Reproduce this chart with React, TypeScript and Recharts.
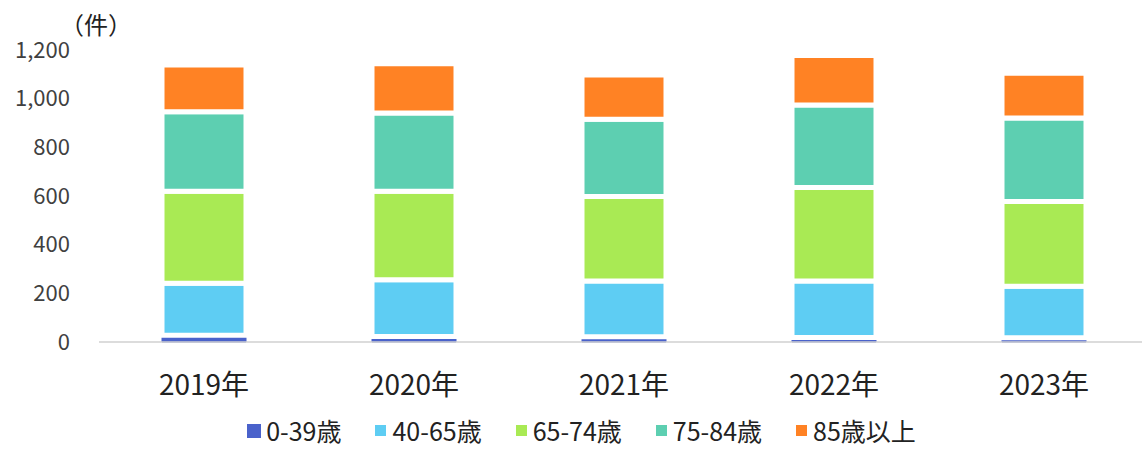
import { BarChart, Bar, XAxis, YAxis } from "recharts";

const years = ["2019年", "2020年", "2021年", "2022年", "2023年"];
const age0to39 = [28, 23, 22, 18, 17];
const age40to65 = [213, 233, 229, 233, 212];
const age65to74 = [379, 364, 347, 384, 348];
const age75to84 = [326, 321, 317, 339, 344];
const age85plus = [192, 203, 182, 203, 183];
const yTicks = [0, 200, 400, 600, 800, 1000, 1200];

const seriesDefs = [
  { key: "a0", name: "0-39歳", color: "#4a62cb", values: age0to39 },
  { key: "a40", name: "40-65歳", color: "#5ecdf3", values: age40to65 },
  { key: "a65", name: "65-74歳", color: "#a9ea54", values: age65to74 },
  { key: "a75", name: "75-84歳", color: "#5dcfb1", values: age75to84 },
  { key: "a85", name: "85歳以上", color: "#ff8224", values: age85plus },
];

const data = years.map((year, i) => {
  const row: Record<string, string | number> = { year };
  seriesDefs.forEach((s) => {
    row[s.key] = s.values[i];
  });
  return row;
});

const FONT = '"Noto Sans CJK JP", "Noto Sans", sans-serif';
const TEXT = "#404040";

export default function App() {
  return (
    <div
      style={{
        position: "absolute",
        left: 0,
        top: 0,
        width: 1142,
        height: 449,
        overflow: "hidden",
        background: "#fff",
        fontFamily: FONT,
      }}
    >
      <div
        style={{
          position: "absolute",
          left: 60,
          top: 12,
          fontSize: 24,
          color: "#222",
          lineHeight: 1,
        }}
      >
        （件）
      </div>
      <BarChart
        width={1149}
        height={449}
        data={data}
        margin={{ top: 50, right: 0, bottom: 0, left: 0 }}
      >
        <XAxis
          dataKey="year"
          height={107}
          tickLine={false}
          axisLine={{ stroke: "#d0d0d0", strokeWidth: 1.5 }}
          tickMargin={27}
          tick={{ fontSize: 28, fill: "#222", fontFamily: FONT }}
        />
        <YAxis
          width={99}
          domain={[0, 1200]}
          ticks={yTicks}
          axisLine={false}
          tickLine={false}
          tickMargin={23}
          tick={{ fontSize: 22, fill: TEXT, fontFamily: FONT }}
          tickFormatter={(v: number) => v.toLocaleString("en-US")}
        />
        {seriesDefs.map((s, i) => (
          <Bar
            key={s.key}
            dataKey={s.key}
            name={s.name}
            stackId="total"
            fill={s.color}
            stroke={i === 0 ? s.color : "#ffffff"}
            strokeWidth={i === 0 ? 1 : 5}
            barSize={84}
            isAnimationActive={false}
          />
        ))}
      </BarChart>
      <div
        style={{
          position: "absolute",
          left: 0,
          top: 418,
          width: 1163,
          display: "flex",
          justifyContent: "center",
          gap: 34,
          fontSize: 25,
          color: "#222",
          lineHeight: 1,
        }}
      >
        {seriesDefs.map((s, i) => (
          <div key={s.key} style={{ display: "flex", alignItems: "center" }}>
            <span
              style={{
                display: "inline-block",
                width: i === 0 ? 14 : 11,
                height: i === 0 ? 14 : 11,
                background: s.color,
                marginRight: i === 0 ? 5 : 6,
              }}
            />
            <span>{s.name}</span>
          </div>
        ))}
      </div>
    </div>
  );
}
